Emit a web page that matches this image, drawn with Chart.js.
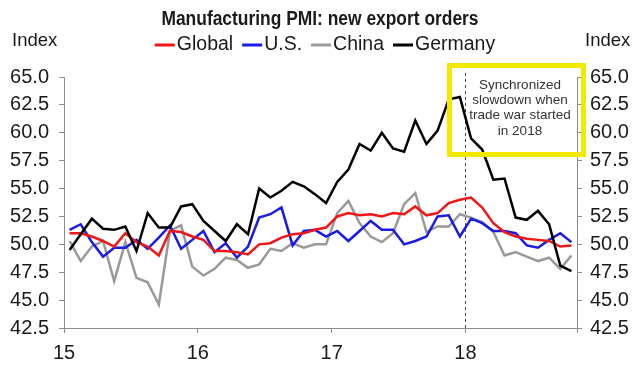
<!DOCTYPE html>
<html>
<head>
<meta charset="utf-8">
<title>Manufacturing PMI: new export orders</title>
<script src="https://cdn.jsdelivr.net/npm/chart.js@4.4.1/dist/chart.umd.min.js"></script>
<style>
  html, body { margin: 0; padding: 0; background: #fff; }
  #pmiChart { display: block; }
</style>
</head>
<body>
<canvas id="pmiChart" width="643" height="367"></canvas>
<script>
/* ── Data: monthly new export orders, Jan 2015 – Oct 2018 ── */
const YEAR_LABELS = ['15', '16', '17', '18'];

const GLOBAL = [
  51.0, 51.0, 50.7, 50.3, 49.8, 51.0, 50.2, 49.8, 49.0, 51.2, 51.1, 50.7,
  50.4, 49.4, 49.4, 49.3, 49.1, 50.0, 50.1, 50.6, 50.9, 51.0, 51.3, 51.5,
  52.5, 52.8, 52.6, 52.7, 52.5, 52.8, 52.7, 53.4, 52.6, 52.8, 53.7, 54.0,
  54.2, 53.3, 51.9, 51.1, 50.7, 50.5, 50.4, 50.3, 49.8, 49.9,
];
const US = [
  51.3, 51.8, 50.2, 48.9, 49.7, 49.7, 50.4, 49.6, 50.6, 51.7, 49.6, 50.4,
  51.2, 49.3, 50.1, 48.8, 49.8, 52.4, 52.7, 53.3, 49.9, 51.2, 51.3, 50.7,
  51.2, 50.3, 51.2, 52.1, 51.3, 51.3, 50.0, 50.3, 50.7, 52.5, 52.6, 50.7,
  52.3, 51.9, 51.2, 51.2, 51.0, 49.9, 49.7, 50.4, 51.0, 50.2,
];
const CHINA = [
  50.3, 48.5, 49.8, 50.3, 46.7, 50.2, 47.0, 46.6, 44.6, 51.2, 51.7, 48.0,
  47.2, 47.8, 48.8, 48.6, 47.9, 48.2, 49.6, 49.4, 50.1, 49.7, 50.0, 50.0,
  52.8, 53.9, 51.9, 50.7, 50.2, 51.0, 53.6, 54.6, 51.1, 51.6, 51.6, 52.7,
  52.4, 52.0, 51.1, 49.0, 49.3, 48.9, 48.5, 48.8, 47.8, 49.0,
];
const GERMANY = [
  49.5, 50.9, 52.3, 51.4, 51.3, 51.6, 49.4, 52.8, 51.5, 51.5, 53.4, 53.6,
  52.1, 51.2, 50.3, 51.8, 50.9, 55.0, 54.2, 54.8, 55.6, 55.2, 54.5, 53.7,
  55.6, 56.7, 59.0, 58.4, 60.0, 58.6, 58.3, 61.1, 59.0, 60.2, 63.0, 63.2,
  59.5, 58.5, 55.8, 55.9, 52.4, 52.2, 53.0, 51.8, 48.1, 47.6,
];

const Y_MIN = 42.5, Y_MAX = 65, Y_STEP = 2.5;
const TRADE_WAR_MONTH = 36;   // Jan 2018, months since Jan 2015
const NOTE_LINES = ['Synchronized', 'slowdown when', 'trade war started', 'in 2018'];

/* ── Styling ──────────────────────────────────── */
const FONT     = "'Liberation Sans', Arial, sans-serif";
const C_TEXT   = '#1a1a1a';
const C_AXIS   = '#8c8c8c';
const C_YELLOW = '#f2e800';

const SERIES = [
  { label: 'Global',  data: GLOBAL,  color: '#f01616', order: 1 },
  { label: 'U.S.',    data: US,      color: '#1a1ae6', order: 2 },
  { label: 'China',   data: CHINA,   color: '#999999', order: 3 },
  { label: 'Germany', data: GERMANY, color: '#000000', order: 0 },
];

// month index -> mid-month position on the linear x scale
const toPoints = arr => arr.map((v, i) => ({ x: i + 0.5, y: v }));

/* ── Title, legend, axis captions and the note box ── */
const decorations = {
  id: 'decorations',
  beforeDatasetsDraw(chart) {
    const { ctx, chartArea, scales } = chart;
    // dashed marker at the start of 2018
    const xm = scales.x.getPixelForValue(TRADE_WAR_MONTH);
    ctx.save();
    ctx.strokeStyle = '#444';
    ctx.lineWidth = 1;
    ctx.setLineDash([3, 3]);
    ctx.beginPath();
    ctx.moveTo(xm, 73);
    ctx.lineTo(xm, chartArea.bottom);
    ctx.stroke();
    ctx.restore();
  },
  afterDraw(chart) {
    const { ctx } = chart;
    ctx.save();
    ctx.fillStyle = C_TEXT;
    ctx.textBaseline = 'middle';

    // title, slightly condensed
    ctx.save();
    ctx.font = `bold 20px ${FONT}`;
    ctx.textAlign = 'center';
    ctx.translate(320, 19);
    ctx.scale(0.87, 1);
    ctx.fillText('Manufacturing PMI: new export orders', 0, 0);
    ctx.restore();

    // axis captions
    ctx.font = `18.5px ${FONT}`;
    ctx.textAlign = 'left';
    ctx.fillText('Index', 12, 41);
    ctx.fillText('Index', 585, 41);

    // legend
    ctx.font = `19.5px ${FONT}`;
    const lineLen = 20, gap = 2, itemGap = 9;
    const widths = SERIES.map(s => lineLen + gap + ctx.measureText(s.label).width);
    const total = widths.reduce((a, b) => a + b, 0) + itemGap * (SERIES.length - 1);
    let x = 325 - total / 2;
    const ly = 45;
    SERIES.forEach((s, i) => {
      ctx.strokeStyle = s.color;
      ctx.lineWidth = 3;
      ctx.beginPath();
      ctx.moveTo(x, ly);
      ctx.lineTo(x + lineLen, ly);
      ctx.stroke();
      ctx.fillText(s.label, x + lineLen + gap, ly);
      x += widths[i] + itemGap;
    });

    // note box
    ctx.strokeStyle = C_YELLOW;
    ctx.lineWidth = 5;
    ctx.strokeRect(449.5, 65.5, 134, 89);
    ctx.fillStyle = '#333';
    ctx.font = `13.5px ${FONT}`;
    ctx.textAlign = 'center';
    NOTE_LINES.forEach((t, i) => ctx.fillText(t, 520, 85 + i * 15.3));
    ctx.restore();
  },
};

/* ── Chart ────────────────────────────────────── */
const yAxis = (position, width, padding) => ({
  type: 'linear',
  position,
  min: Y_MIN,
  max: Y_MAX,
  afterFit: scale => { scale.width = width; },
  border: { color: C_AXIS, width: 1 },
  grid: { drawOnChartArea: false, drawTicks: true, tickLength: 5, color: C_AXIS },
  ticks: {
    stepSize: Y_STEP,
    padding,
    color: C_TEXT,
    font: { size: 20 },
    callback: v => v.toFixed(1),
  },
});

new Chart(document.getElementById('pmiChart'), {
  type: 'line',
  data: {
    datasets: SERIES.map(s => ({
      label: s.label,
      data: toPoints(s.data),
      borderColor: s.color,
      backgroundColor: s.color,
      borderWidth: 2.5,
      pointRadius: 0,
      tension: 0,
      fill: false,
      order: s.order,
    })),
  },
  options: {
    responsive: false,
    animation: false,
    devicePixelRatio: 1,
    layout: { padding: { top: 77, left: 0, right: 0, bottom: 0 } },
    plugins: {
      legend: { display: false },
      tooltip: { enabled: false },
    },
    scales: {
      x: {
        type: 'linear',
        min: 0,
        max: YEAR_LABELS.length * 12 - 2,
        afterFit: scale => { scale.height = 39; },
        border: { color: C_AXIS, width: 1 },
        grid: { drawOnChartArea: false, drawTicks: true, tickLength: 5, color: C_AXIS },
        ticks: {
          stepSize: 12,
          padding: 8,
          color: C_TEXT,
          font: { size: 20 },
          maxRotation: 0,
          callback: v => YEAR_LABELS[v / 12] ?? '',
        },
      },
      y:  yAxis('left', 64, 10),
      y2: yAxis('right', 66, 8),
    },
  },
  plugins: [decorations],
});
</script>
</body>
</html>
